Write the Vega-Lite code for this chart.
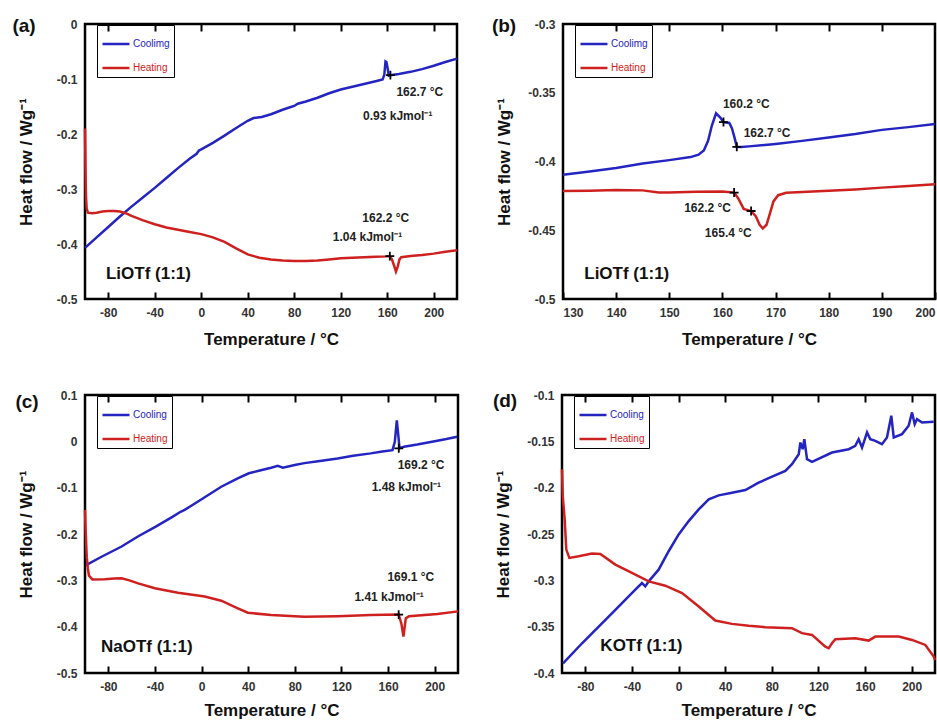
{
  "$schema": "https://vega.github.io/schema/vega-lite/v6.json",
  "background": "white",
  "padding": {"left": 11, "top": 15, "right": 5, "bottom": 0},
  "spacing": 38,
  "resolve": {"scale": {"color": "independent"}, "legend": {"color": "independent"}},
  "config": {
    "font": "Liberation Sans",
    "view": {"stroke": "#000", "strokeWidth": 2.5},
    "axis": {"grid": false, "domain": false, "labelFont": "Liberation Sans", "labelFontSize": 12, "labelFontWeight": "bold", "labelColor": "#333", "titleFont": "Liberation Sans", "titleFontSize": 17, "titleFontWeight": "bold", "titleColor": "#111", "format": "~f", "labelExpr": "replace(datum.label, '\u2212', '-')"},
    "axisY": {"ticks": false, "labelPadding": 8, "titleX": -59, "titleAngle": 270, "titleBaseline": "middle", "titleAlign": "center"},
    "axisX": {"titleBaseline": "middle"},
    "legend": {"orient": "none", "legendX": 12, "legendY": 1, "symbolType": "stroke", "symbolSize": 729, "symbolStrokeWidth": 2.5, "labelFont": "Liberation Sans", "labelFontSize": 10, "padding": 4, "rowPadding": 4, "strokeColor": "#000", "labelOffset": 2}
  },
  "datasets": {
    "a_lines": [
      {"T": -100, "v": -0.407, "s": "Coolimg"}, {"T": -90, "v": -0.388, "s": "Coolimg"}, {"T": -80, "v": -0.369, "s": "Coolimg"}, {"T": -70, "v": -0.35, "s": "Coolimg"}, {"T": -60, "v": -0.332, "s": "Coolimg"}, {"T": -50, "v": -0.315, "s": "Coolimg"}, {"T": -40, "v": -0.298, "s": "Coolimg"}, {"T": -30, "v": -0.28, "s": "Coolimg"}, {"T": -20, "v": -0.262, "s": "Coolimg"}, {"T": -10, "v": -0.245, "s": "Coolimg"}, {"T": -4, "v": -0.236, "s": "Coolimg"}, {"T": -2, "v": -0.23, "s": "Coolimg"}, {"T": 0, "v": -0.228, "s": "Coolimg"}, {"T": 5, "v": -0.222, "s": "Coolimg"}, {"T": 10, "v": -0.216, "s": "Coolimg"}, {"T": 20, "v": -0.203, "s": "Coolimg"}, {"T": 30, "v": -0.189, "s": "Coolimg"}, {"T": 40, "v": -0.176, "s": "Coolimg"}, {"T": 45, "v": -0.171, "s": "Coolimg"}, {"T": 52, "v": -0.169, "s": "Coolimg"}, {"T": 60, "v": -0.164, "s": "Coolimg"}, {"T": 70, "v": -0.156, "s": "Coolimg"}, {"T": 77, "v": -0.151, "s": "Coolimg"}, {"T": 80, "v": -0.149, "s": "Coolimg"}, {"T": 83, "v": -0.145, "s": "Coolimg"}, {"T": 90, "v": -0.141, "s": "Coolimg"}, {"T": 100, "v": -0.134, "s": "Coolimg"}, {"T": 110, "v": -0.126, "s": "Coolimg"}, {"T": 120, "v": -0.119, "s": "Coolimg"}, {"T": 130, "v": -0.114, "s": "Coolimg"}, {"T": 140, "v": -0.109, "s": "Coolimg"}, {"T": 150, "v": -0.104, "s": "Coolimg"}, {"T": 156, "v": -0.101, "s": "Coolimg"}, {"T": 157.5, "v": -0.092, "s": "Coolimg"}, {"T": 158.5, "v": -0.068, "s": "Coolimg"}, {"T": 159.3, "v": -0.069, "s": "Coolimg"}, {"T": 160.3, "v": -0.08, "s": "Coolimg"}, {"T": 161.3, "v": -0.094, "s": "Coolimg"}, {"T": 162.7, "v": -0.093, "s": "Coolimg"}, {"T": 170, "v": -0.091, "s": "Coolimg"}, {"T": 180, "v": -0.087, "s": "Coolimg"}, {"T": 190, "v": -0.082, "s": "Coolimg"}, {"T": 200, "v": -0.076, "s": "Coolimg"}, {"T": 210, "v": -0.069, "s": "Coolimg"}, {"T": 220, "v": -0.063, "s": "Coolimg"},
      {"T": -100, "v": -0.19, "s": "Heating"}, {"T": -99.6, "v": -0.26, "s": "Heating"}, {"T": -99.2, "v": -0.31, "s": "Heating"}, {"T": -98.6, "v": -0.335, "s": "Heating"}, {"T": -97.5, "v": -0.343, "s": "Heating"}, {"T": -94, "v": -0.344, "s": "Heating"}, {"T": -90, "v": -0.343, "s": "Heating"}, {"T": -85, "v": -0.341, "s": "Heating"}, {"T": -80, "v": -0.34, "s": "Heating"}, {"T": -75, "v": -0.34, "s": "Heating"}, {"T": -70, "v": -0.341, "s": "Heating"}, {"T": -65, "v": -0.344, "s": "Heating"}, {"T": -60, "v": -0.349, "s": "Heating"}, {"T": -50, "v": -0.357, "s": "Heating"}, {"T": -40, "v": -0.364, "s": "Heating"}, {"T": -30, "v": -0.37, "s": "Heating"}, {"T": -20, "v": -0.374, "s": "Heating"}, {"T": -10, "v": -0.378, "s": "Heating"}, {"T": 0, "v": -0.382, "s": "Heating"}, {"T": 10, "v": -0.388, "s": "Heating"}, {"T": 20, "v": -0.396, "s": "Heating"}, {"T": 30, "v": -0.408, "s": "Heating"}, {"T": 40, "v": -0.419, "s": "Heating"}, {"T": 50, "v": -0.425, "s": "Heating"}, {"T": 60, "v": -0.428, "s": "Heating"}, {"T": 70, "v": -0.43, "s": "Heating"}, {"T": 80, "v": -0.431, "s": "Heating"}, {"T": 90, "v": -0.431, "s": "Heating"}, {"T": 100, "v": -0.43, "s": "Heating"}, {"T": 110, "v": -0.428, "s": "Heating"}, {"T": 120, "v": -0.426, "s": "Heating"}, {"T": 130, "v": -0.425, "s": "Heating"}, {"T": 140, "v": -0.424, "s": "Heating"}, {"T": 150, "v": -0.423, "s": "Heating"}, {"T": 160, "v": -0.4225, "s": "Heating"}, {"T": 162.2, "v": -0.422, "s": "Heating"}, {"T": 164, "v": -0.428, "s": "Heating"}, {"T": 166, "v": -0.44, "s": "Heating"}, {"T": 167.5, "v": -0.45, "s": "Heating"}, {"T": 169, "v": -0.441, "s": "Heating"}, {"T": 170.5, "v": -0.428, "s": "Heating"}, {"T": 172, "v": -0.424, "s": "Heating"}, {"T": 180, "v": -0.422, "s": "Heating"}, {"T": 190, "v": -0.42, "s": "Heating"}, {"T": 200, "v": -0.4175, "s": "Heating"}, {"T": 210, "v": -0.414, "s": "Heating"}, {"T": 220, "v": -0.4115, "s": "Heating"}
    ],
    "a_marks": [{"T": 162.7, "v": -0.093}, {"T": 162.2, "v": -0.422}],
    "a_ann": [{"T": 188, "v": -0.123, "label": "162.7 °C"}, {"T": 169, "v": -0.167, "label": "0.93 kJmol⁻¹"}, {"T": 158.7, "v": -0.352, "label": "162.2 °C"}, {"T": 143, "v": -0.387, "label": "1.04 kJmol⁻¹"}],
    "a_sample": [{"T": -82, "v": -0.455, "label": "LiOTf (1:1)"}],
    "a_tag": [{"T": -100, "v": 0, "label": "(a)"}],
    "b_lines": [
      {"T": 130, "v": -0.4097, "s": "Coolimg"}, {"T": 135, "v": -0.4072, "s": "Coolimg"}, {"T": 140, "v": -0.4048, "s": "Coolimg"}, {"T": 145, "v": -0.4014, "s": "Coolimg"}, {"T": 150, "v": -0.399, "s": "Coolimg"}, {"T": 154, "v": -0.3968, "s": "Coolimg"}, {"T": 155.5, "v": -0.395, "s": "Coolimg"}, {"T": 156.5, "v": -0.392, "s": "Coolimg"}, {"T": 157.3, "v": -0.385, "s": "Coolimg"}, {"T": 158, "v": -0.374, "s": "Coolimg"}, {"T": 158.8, "v": -0.365, "s": "Coolimg"}, {"T": 159.6, "v": -0.368, "s": "Coolimg"}, {"T": 160.2, "v": -0.3713, "s": "Coolimg"}, {"T": 161.3, "v": -0.372, "s": "Coolimg"}, {"T": 161.8, "v": -0.376, "s": "Coolimg"}, {"T": 162.3, "v": -0.383, "s": "Coolimg"}, {"T": 162.7, "v": -0.3893, "s": "Coolimg"}, {"T": 163.5, "v": -0.3895, "s": "Coolimg"}, {"T": 165, "v": -0.389, "s": "Coolimg"}, {"T": 170, "v": -0.3872, "s": "Coolimg"}, {"T": 175, "v": -0.385, "s": "Coolimg"}, {"T": 180, "v": -0.3825, "s": "Coolimg"}, {"T": 185, "v": -0.38, "s": "Coolimg"}, {"T": 190, "v": -0.377, "s": "Coolimg"}, {"T": 195, "v": -0.375, "s": "Coolimg"}, {"T": 200, "v": -0.3728, "s": "Coolimg"},
      {"T": 130, "v": -0.4214, "s": "Heating"}, {"T": 135, "v": -0.4212, "s": "Heating"}, {"T": 140, "v": -0.4207, "s": "Heating"}, {"T": 145, "v": -0.421, "s": "Heating"}, {"T": 148, "v": -0.4226, "s": "Heating"}, {"T": 150, "v": -0.4225, "s": "Heating"}, {"T": 155, "v": -0.422, "s": "Heating"}, {"T": 160, "v": -0.4218, "s": "Heating"}, {"T": 162.2, "v": -0.4226, "s": "Heating"}, {"T": 163, "v": -0.427, "s": "Heating"}, {"T": 164, "v": -0.4345, "s": "Heating"}, {"T": 165.4, "v": -0.436, "s": "Heating"}, {"T": 166.3, "v": -0.44, "s": "Heating"}, {"T": 167, "v": -0.446, "s": "Heating"}, {"T": 167.6, "v": -0.4487, "s": "Heating"}, {"T": 168.3, "v": -0.446, "s": "Heating"}, {"T": 169, "v": -0.437, "s": "Heating"}, {"T": 169.6, "v": -0.429, "s": "Heating"}, {"T": 170.5, "v": -0.4245, "s": "Heating"}, {"T": 172, "v": -0.4228, "s": "Heating"}, {"T": 175, "v": -0.4222, "s": "Heating"}, {"T": 180, "v": -0.4212, "s": "Heating"}, {"T": 185, "v": -0.4203, "s": "Heating"}, {"T": 190, "v": -0.419, "s": "Heating"}, {"T": 195, "v": -0.4178, "s": "Heating"}, {"T": 200, "v": -0.4166, "s": "Heating"}
    ],
    "b_marks": [{"T": 160.2, "v": -0.3713}, {"T": 162.7, "v": -0.3893}, {"T": 162.2, "v": -0.4226}, {"T": 165.4, "v": -0.436}],
    "b_ann": [{"T": 164.5, "v": -0.3582, "label": "160.2 °C"}, {"T": 168.4, "v": -0.3793, "label": "162.7 °C"}, {"T": 157.2, "v": -0.4336, "label": "162.2 °C"}, {"T": 161.1, "v": -0.4523, "label": "165.4 °C"}],
    "b_sample": [{"T": 134, "v": -0.4815, "label": "LiOTf (1:1)"}],
    "b_tag": [{"T": 130, "v": -0.3, "label": "(b)"}],
    "c_lines": [
      {"T": -99.1, "v": -0.267, "s": "Cooling"}, {"T": -85, "v": -0.248, "s": "Cooling"}, {"T": -68.6, "v": -0.227, "s": "Cooling"}, {"T": -55, "v": -0.206, "s": "Cooling"}, {"T": -39.3, "v": -0.184, "s": "Cooling"}, {"T": -25, "v": -0.163, "s": "Cooling"}, {"T": -18, "v": -0.152, "s": "Cooling"}, {"T": -14.5, "v": -0.148, "s": "Cooling"}, {"T": -8.8, "v": -0.139, "s": "Cooling"}, {"T": 0.7, "v": -0.124, "s": "Cooling"}, {"T": 16.9, "v": -0.098, "s": "Cooling"}, {"T": 31, "v": -0.08, "s": "Cooling"}, {"T": 40.6, "v": -0.069, "s": "Cooling"}, {"T": 50, "v": -0.063, "s": "Cooling"}, {"T": 59.7, "v": -0.057, "s": "Cooling"}, {"T": 65.4, "v": -0.053, "s": "Cooling"}, {"T": 69.7, "v": -0.057, "s": "Cooling"}, {"T": 80, "v": -0.051, "s": "Cooling"}, {"T": 88.2, "v": -0.047, "s": "Cooling"}, {"T": 100, "v": -0.043, "s": "Cooling"}, {"T": 116.7, "v": -0.037, "s": "Cooling"}, {"T": 130, "v": -0.031, "s": "Cooling"}, {"T": 145.2, "v": -0.026, "s": "Cooling"}, {"T": 155, "v": -0.022, "s": "Cooling"}, {"T": 163.8, "v": -0.019, "s": "Cooling"}, {"T": 165.8, "v": -0.001, "s": "Cooling"}, {"T": 167.5, "v": 0.045, "s": "Cooling"}, {"T": 168.9, "v": 0.01, "s": "Cooling"}, {"T": 169.8, "v": -0.015, "s": "Cooling"}, {"T": 173.7, "v": -0.0115, "s": "Cooling"}, {"T": 185, "v": -0.007, "s": "Cooling"}, {"T": 202.3, "v": 0.0014, "s": "Cooling"}, {"T": 210, "v": 0.005, "s": "Cooling"}, {"T": 219.4, "v": 0.01, "s": "Cooling"},
      {"T": -100, "v": -0.148, "s": "Heating"}, {"T": -99.6, "v": -0.18, "s": "Heating"}, {"T": -99.1, "v": -0.213, "s": "Heating"}, {"T": -98.5, "v": -0.25, "s": "Heating"}, {"T": -97.5, "v": -0.275, "s": "Heating"}, {"T": -96.6, "v": -0.29, "s": "Heating"}, {"T": -93.7, "v": -0.298, "s": "Heating"}, {"T": -82.9, "v": -0.2975, "s": "Heating"}, {"T": -75, "v": -0.296, "s": "Heating"}, {"T": -68.6, "v": -0.2955, "s": "Heating"}, {"T": -62, "v": -0.3, "s": "Heating"}, {"T": -54.4, "v": -0.3065, "s": "Heating"}, {"T": -40.1, "v": -0.317, "s": "Heating"}, {"T": -20.2, "v": -0.3267, "s": "Heating"}, {"T": 2.7, "v": -0.335, "s": "Heating"}, {"T": 16.9, "v": -0.344, "s": "Heating"}, {"T": 31.1, "v": -0.3605, "s": "Heating"}, {"T": 39.7, "v": -0.37, "s": "Heating"}, {"T": 59.7, "v": -0.375, "s": "Heating"}, {"T": 88.2, "v": -0.3785, "s": "Heating"}, {"T": 116.7, "v": -0.3775, "s": "Heating"}, {"T": 145.2, "v": -0.375, "s": "Heating"}, {"T": 169.1, "v": -0.374, "s": "Heating"}, {"T": 171.4, "v": -0.393, "s": "Heating"}, {"T": 173.2, "v": -0.4216, "s": "Heating"}, {"T": 175.2, "v": -0.382, "s": "Heating"}, {"T": 178, "v": -0.3775, "s": "Heating"}, {"T": 202.3, "v": -0.3727, "s": "Heating"}, {"T": 220, "v": -0.367, "s": "Heating"}
    ],
    "c_marks": [{"T": 169.2, "v": -0.015}, {"T": 169.1, "v": -0.374}],
    "c_ann": [{"T": 188.3, "v": -0.051, "label": "169.2 °C"}, {"T": 175.7, "v": -0.0993, "label": "1.48 kJmol⁻¹"}, {"T": 179.5, "v": -0.292, "label": "169.1 °C"}, {"T": 160.9, "v": -0.3353, "label": "1.41 kJmol⁻¹"}],
    "c_sample": [{"T": -86.3, "v": -0.443, "label": "NaOTf (1:1)"}],
    "c_tag": [{"T": -100, "v": 0.1, "label": "(c)"}],
    "d_lines": [
      {"T": -99.1, "v": -0.3895, "s": "Cooling"}, {"T": -82.8, "v": -0.3679, "s": "Cooling"}, {"T": -54.2, "v": -0.3318, "s": "Cooling"}, {"T": -37.1, "v": -0.3101, "s": "Cooling"}, {"T": -31.4, "v": -0.3029, "s": "Cooling"}, {"T": -28.5, "v": -0.3065, "s": "Cooling"}, {"T": -25.6, "v": -0.3011, "s": "Cooling"}, {"T": -17.1, "v": -0.2885, "s": "Cooling"}, {"T": -8.5, "v": -0.2686, "s": "Cooling"}, {"T": 0.1, "v": -0.2505, "s": "Cooling"}, {"T": 8.7, "v": -0.2361, "s": "Cooling"}, {"T": 17.3, "v": -0.2235, "s": "Cooling"}, {"T": 25.9, "v": -0.2126, "s": "Cooling"}, {"T": 34.4, "v": -0.2083, "s": "Cooling"}, {"T": 45.8, "v": -0.2054, "s": "Cooling"}, {"T": 57.3, "v": -0.2025, "s": "Cooling"}, {"T": 68.7, "v": -0.1946, "s": "Cooling"}, {"T": 80.2, "v": -0.1881, "s": "Cooling"}, {"T": 91.6, "v": -0.182, "s": "Cooling"}, {"T": 97.3, "v": -0.1747, "s": "Cooling"}, {"T": 103.1, "v": -0.1639, "s": "Cooling"}, {"T": 104.5, "v": -0.1513, "s": "Cooling"}, {"T": 106.5, "v": -0.1585, "s": "Cooling"}, {"T": 107.9, "v": -0.1477, "s": "Cooling"}, {"T": 110.2, "v": -0.1693, "s": "Cooling"}, {"T": 114.5, "v": -0.1722, "s": "Cooling"}, {"T": 131.6, "v": -0.1621, "s": "Cooling"}, {"T": 146, "v": -0.1585, "s": "Cooling"}, {"T": 151.6, "v": -0.1549, "s": "Cooling"}, {"T": 154.5, "v": -0.1477, "s": "Cooling"}, {"T": 157.4, "v": -0.1567, "s": "Cooling"}, {"T": 161.7, "v": -0.1404, "s": "Cooling"}, {"T": 164.5, "v": -0.1477, "s": "Cooling"}, {"T": 168.8, "v": -0.1495, "s": "Cooling"}, {"T": 174.5, "v": -0.1531, "s": "Cooling"}, {"T": 178.8, "v": -0.1458, "s": "Cooling"}, {"T": 182.5, "v": -0.1224, "s": "Cooling"}, {"T": 184.6, "v": -0.1458, "s": "Cooling"}, {"T": 191.7, "v": -0.1422, "s": "Cooling"}, {"T": 197.4, "v": -0.1332, "s": "Cooling"}, {"T": 200.3, "v": -0.1188, "s": "Cooling"}, {"T": 202.6, "v": -0.1314, "s": "Cooling"}, {"T": 204.6, "v": -0.126, "s": "Cooling"}, {"T": 208.9, "v": -0.1296, "s": "Cooling"}, {"T": 218.9, "v": -0.1289, "s": "Cooling"},
      {"T": -100, "v": -0.1801, "s": "Heating"}, {"T": -99.3, "v": -0.21, "s": "Heating"}, {"T": -97.7, "v": -0.2343, "s": "Heating"}, {"T": -96.3, "v": -0.2668, "s": "Heating"}, {"T": -93.7, "v": -0.2758, "s": "Heating"}, {"T": -85.7, "v": -0.274, "s": "Heating"}, {"T": -74.3, "v": -0.2711, "s": "Heating"}, {"T": -67.1, "v": -0.2715, "s": "Heating"}, {"T": -54.2, "v": -0.283, "s": "Heating"}, {"T": -40, "v": -0.292, "s": "Heating"}, {"T": -25.6, "v": -0.3011, "s": "Heating"}, {"T": -11.4, "v": -0.3058, "s": "Heating"}, {"T": 3, "v": -0.3137, "s": "Heating"}, {"T": 17.3, "v": -0.3282, "s": "Heating"}, {"T": 31.5, "v": -0.3434, "s": "Heating"}, {"T": 45.8, "v": -0.347, "s": "Heating"}, {"T": 60.2, "v": -0.3491, "s": "Heating"}, {"T": 74.4, "v": -0.3505, "s": "Heating"}, {"T": 97.3, "v": -0.3516, "s": "Heating"}, {"T": 105.9, "v": -0.357, "s": "Heating"}, {"T": 114.5, "v": -0.3589, "s": "Heating"}, {"T": 125.9, "v": -0.3715, "s": "Heating"}, {"T": 128.8, "v": -0.3733, "s": "Heating"}, {"T": 131.6, "v": -0.3679, "s": "Heating"}, {"T": 134.5, "v": -0.3635, "s": "Heating"}, {"T": 151.6, "v": -0.3624, "s": "Heating"}, {"T": 163.1, "v": -0.365, "s": "Heating"}, {"T": 168.8, "v": -0.3607, "s": "Heating"}, {"T": 188.9, "v": -0.3607, "s": "Heating"}, {"T": 200.3, "v": -0.3643, "s": "Heating"}, {"T": 211.7, "v": -0.3697, "s": "Heating"}, {"T": 218.9, "v": -0.3823, "s": "Heating"}, {"T": 220, "v": -0.386, "s": "Heating"}
    ],
    "d_sample": [{"T": -67.1, "v": -0.3708, "label": "KOTf (1:1)"}],
    "d_tag": [{"T": -100, "v": -0.1, "label": "(d)"}]
  },
  "vconcat": [
    {
      "hconcat": [
        {
          "width": 372, "height": 275,
          "resolve": {"axis": {"x": "independent"}},
          "layer": [
            {"data": {"name": "a_lines"}, "mark": {"type": "line", "strokeWidth": 2.5},
             "encoding": {
               "x": {"field": "T", "type": "quantitative", "scale": {"domain": [-100, 220], "nice": false, "zero": false}, "axis": {"values": [-80, -40, 0, 40, 80, 120, 160, 200], "title": "Temperature / °C", "ticks": true, "tickSize": 7, "tickWidth": 2, "tickColor": "#000000", "offset": -7, "labelPadding": 8, "titleY": 47}},
               "y": {"field": "v", "type": "quantitative", "scale": {"domain": [-0.5, 0], "nice": false, "zero": false}, "axis": {"values": [-0.5, -0.4, -0.3, -0.2, -0.1, 0], "title": "Heat flow / Wg⁻¹"}},
               "color": {"field": "s", "type": "nominal", "scale": {"domain": ["Coolimg", "Heating"], "range": ["#2424c0", "#cf2020"]}, "legend": {"title": null, "encoding": {"labels": {"fill": {"value": {"expr": "datum.value == 'Heating' ? '#cf2020' : '#2424c0'"}}}}}}
             }},
            {"data": {"name": "a_marks"}, "mark": {"type": "point", "shape": "M-1,0H1M0,-1V1", "size": 80, "filled": false, "stroke": "#000", "strokeWidth": 1.8, "opacity": 1},
             "encoding": {"x": {"field": "T", "type": "quantitative", "scale": {"domain": [-100, 220], "nice": false, "zero": false}, "axis": null}, "y": {"field": "v", "type": "quantitative", "scale": {"domain": [-0.5, 0], "nice": false, "zero": false}}}},
            {"data": {"name": "a_ann"}, "mark": {"type": "text", "fontSize": 12, "fontWeight": "bold", "color": "#222"},
             "encoding": {"x": {"field": "T", "type": "quantitative", "scale": {"domain": [-100, 220], "nice": false, "zero": false}, "axis": null}, "y": {"field": "v", "type": "quantitative", "scale": {"domain": [-0.5, 0], "nice": false, "zero": false}}, "text": {"field": "label"}}},
            {"data": {"name": "a_sample"}, "mark": {"type": "text", "fontSize": 17, "fontWeight": "bold", "align": "left", "color": "#111"},
             "encoding": {"x": {"field": "T", "type": "quantitative", "scale": {"domain": [-100, 220], "nice": false, "zero": false}, "axis": {"orient": "top", "values": [-80, -40, 0, 40, 80, 120, 160, 200], "labels": false, "title": null, "ticks": true, "tickSize": 7, "tickWidth": 2, "tickColor": "#000000", "offset": -7}}, "y": {"field": "v", "type": "quantitative", "scale": {"domain": [-0.5, 0], "nice": false, "zero": false}}, "text": {"field": "label"}}},
            {"data": {"name": "a_tag"}, "mark": {"type": "text", "fontSize": 19, "fontWeight": "bold", "dx": -61, "dy": 2, "color": "#111"},
             "encoding": {"x": {"field": "T", "type": "quantitative", "scale": {"domain": [-100, 220], "nice": false, "zero": false}, "axis": null}, "y": {"field": "v", "type": "quantitative", "scale": {"domain": [-0.5, 0], "nice": false, "zero": false}}, "text": {"field": "label"}}}
          ]
        },
        {
          "width": 372, "height": 275,
          "resolve": {"axis": {"x": "independent"}},
          "layer": [
            {"data": {"name": "b_lines"}, "mark": {"type": "line", "strokeWidth": 2.5},
             "encoding": {
               "x": {"field": "T", "type": "quantitative", "scale": {"domain": [130, 200], "nice": false, "zero": false}, "axis": {"values": [130, 140, 150, 160, 170, 180, 190, 200], "title": "Temperature / °C", "ticks": true, "tickSize": 7, "tickWidth": 2, "tickColor": "#000000", "offset": -7, "labelPadding": 8, "titleY": 47}},
               "y": {"field": "v", "type": "quantitative", "scale": {"domain": [-0.5, -0.3], "nice": false, "zero": false}, "axis": {"values": [-0.5, -0.45, -0.4, -0.35, -0.3], "title": "Heat flow / Wg⁻¹"}},
               "color": {"field": "s", "type": "nominal", "scale": {"domain": ["Coolimg", "Heating"], "range": ["#2424c0", "#cf2020"]}, "legend": {"title": null, "encoding": {"labels": {"fill": {"value": {"expr": "datum.value == 'Heating' ? '#cf2020' : '#2424c0'"}}}}}}
             }},
            {"data": {"name": "b_marks"}, "mark": {"type": "point", "shape": "M-1,0H1M0,-1V1", "size": 80, "filled": false, "stroke": "#000", "strokeWidth": 1.8, "opacity": 1},
             "encoding": {"x": {"field": "T", "type": "quantitative", "scale": {"domain": [130, 200], "nice": false, "zero": false}, "axis": null}, "y": {"field": "v", "type": "quantitative", "scale": {"domain": [-0.5, -0.3], "nice": false, "zero": false}}}},
            {"data": {"name": "b_ann"}, "mark": {"type": "text", "fontSize": 12, "fontWeight": "bold", "color": "#222"},
             "encoding": {"x": {"field": "T", "type": "quantitative", "scale": {"domain": [130, 200], "nice": false, "zero": false}, "axis": null}, "y": {"field": "v", "type": "quantitative", "scale": {"domain": [-0.5, -0.3], "nice": false, "zero": false}}, "text": {"field": "label"}}},
            {"data": {"name": "b_sample"}, "mark": {"type": "text", "fontSize": 17, "fontWeight": "bold", "align": "left", "color": "#111"},
             "encoding": {"x": {"field": "T", "type": "quantitative", "scale": {"domain": [130, 200], "nice": false, "zero": false}, "axis": {"orient": "top", "values": [140, 150, 160, 170, 180, 190], "labels": false, "title": null, "ticks": true, "tickSize": 7, "tickWidth": 2, "tickColor": "#000000", "offset": -7}}, "y": {"field": "v", "type": "quantitative", "scale": {"domain": [-0.5, -0.3], "nice": false, "zero": false}}, "text": {"field": "label"}}},
            {"data": {"name": "b_tag"}, "mark": {"type": "text", "fontSize": 19, "fontWeight": "bold", "dx": -59, "dy": 2, "color": "#111"},
             "encoding": {"x": {"field": "T", "type": "quantitative", "scale": {"domain": [130, 200], "nice": false, "zero": false}, "axis": null}, "y": {"field": "v", "type": "quantitative", "scale": {"domain": [-0.5, -0.3], "nice": false, "zero": false}}, "text": {"field": "label"}}}
          ]
        }
      ],
      "spacing": 26,
      "resolve": {"scale": {"color": "independent"}, "legend": {"color": "independent"}}
    },
    {
      "hconcat": [
        {
          "width": 373, "height": 278,
          "resolve": {"axis": {"x": "independent"}},
          "layer": [
            {"data": {"name": "c_lines"}, "mark": {"type": "line", "strokeWidth": 2.5},
             "encoding": {
               "x": {"field": "T", "type": "quantitative", "scale": {"domain": [-100, 220], "nice": false, "zero": false}, "axis": {"values": [-80, -40, 0, 40, 80, 120, 160, 200], "title": "Temperature / °C", "ticks": true, "tickSize": 7, "tickWidth": 2, "tickColor": "#000000", "offset": -7, "labelPadding": 8, "titleY": 44}},
               "y": {"field": "v", "type": "quantitative", "scale": {"domain": [-0.5, 0.1], "nice": false, "zero": false}, "axis": {"values": [-0.5, -0.4, -0.3, -0.2, -0.1, 0, 0.1], "title": "Heat flow / Wg⁻¹"}},
               "color": {"field": "s", "type": "nominal", "scale": {"domain": ["Cooling", "Heating"], "range": ["#2424c0", "#cf2020"]}, "legend": {"title": null, "encoding": {"labels": {"fill": {"value": {"expr": "datum.value == 'Heating' ? '#cf2020' : '#2424c0'"}}}}}}
             }},
            {"data": {"name": "c_marks"}, "mark": {"type": "point", "shape": "M-1,0H1M0,-1V1", "size": 80, "filled": false, "stroke": "#000", "strokeWidth": 1.8, "opacity": 1},
             "encoding": {"x": {"field": "T", "type": "quantitative", "scale": {"domain": [-100, 220], "nice": false, "zero": false}, "axis": null}, "y": {"field": "v", "type": "quantitative", "scale": {"domain": [-0.5, 0.1], "nice": false, "zero": false}}}},
            {"data": {"name": "c_ann"}, "mark": {"type": "text", "fontSize": 12, "fontWeight": "bold", "color": "#222"},
             "encoding": {"x": {"field": "T", "type": "quantitative", "scale": {"domain": [-100, 220], "nice": false, "zero": false}, "axis": null}, "y": {"field": "v", "type": "quantitative", "scale": {"domain": [-0.5, 0.1], "nice": false, "zero": false}}, "text": {"field": "label"}}},
            {"data": {"name": "c_sample"}, "mark": {"type": "text", "fontSize": 17, "fontWeight": "bold", "align": "left", "color": "#111"},
             "encoding": {"x": {"field": "T", "type": "quantitative", "scale": {"domain": [-100, 220], "nice": false, "zero": false}, "axis": {"orient": "top", "values": [-80, -40, 0, 40, 80, 120, 160, 200], "labels": false, "title": null, "ticks": true, "tickSize": 7, "tickWidth": 2, "tickColor": "#000000", "offset": -7}}, "y": {"field": "v", "type": "quantitative", "scale": {"domain": [-0.5, 0.1], "nice": false, "zero": false}}, "text": {"field": "label"}}},
            {"data": {"name": "c_tag"}, "mark": {"type": "text", "fontSize": 19, "fontWeight": "bold", "dx": -58, "dy": 7, "color": "#111"},
             "encoding": {"x": {"field": "T", "type": "quantitative", "scale": {"domain": [-100, 220], "nice": false, "zero": false}, "axis": null}, "y": {"field": "v", "type": "quantitative", "scale": {"domain": [-0.5, 0.1], "nice": false, "zero": false}}, "text": {"field": "label"}}}
          ]
        },
        {
          "width": 373, "height": 278,
          "resolve": {"axis": {"x": "independent"}},
          "layer": [
            {"data": {"name": "d_lines"}, "mark": {"type": "line", "strokeWidth": 2.5},
             "encoding": {
               "x": {"field": "T", "type": "quantitative", "scale": {"domain": [-100, 220], "nice": false, "zero": false}, "axis": {"values": [-80, -40, 0, 40, 80, 120, 160, 200], "title": "Temperature / °C", "ticks": true, "tickSize": 7, "tickWidth": 2, "tickColor": "#000000", "offset": -7, "labelPadding": 8, "titleY": 44}},
               "y": {"field": "v", "type": "quantitative", "scale": {"domain": [-0.4, -0.1], "nice": false, "zero": false}, "axis": {"values": [-0.4, -0.35, -0.3, -0.25, -0.2, -0.15, -0.1], "title": "Heat flow / Wg⁻¹"}},
               "color": {"field": "s", "type": "nominal", "scale": {"domain": ["Cooling", "Heating"], "range": ["#2424c0", "#cf2020"]}, "legend": {"title": null, "encoding": {"labels": {"fill": {"value": {"expr": "datum.value == 'Heating' ? '#cf2020' : '#2424c0'"}}}}}}
             }},
            {"data": {"name": "d_sample"}, "mark": {"type": "text", "fontSize": 17, "fontWeight": "bold", "align": "left", "color": "#111"},
             "encoding": {"x": {"field": "T", "type": "quantitative", "scale": {"domain": [-100, 220], "nice": false, "zero": false}, "axis": {"orient": "top", "values": [-80, -40, 0, 40, 80, 120, 160, 200], "labels": false, "title": null, "ticks": true, "tickSize": 7, "tickWidth": 2, "tickColor": "#000000", "offset": -7}}, "y": {"field": "v", "type": "quantitative", "scale": {"domain": [-0.4, -0.1], "nice": false, "zero": false}}, "text": {"field": "label"}}},
            {"data": {"name": "d_tag"}, "mark": {"type": "text", "fontSize": 19, "fontWeight": "bold", "dx": -57, "dy": 6, "color": "#111"},
             "encoding": {"x": {"field": "T", "type": "quantitative", "scale": {"domain": [-100, 220], "nice": false, "zero": false}, "axis": null}, "y": {"field": "v", "type": "quantitative", "scale": {"domain": [-0.4, -0.1], "nice": false, "zero": false}}, "text": {"field": "label"}}}
          ]
        }
      ],
      "spacing": 26,
      "resolve": {"scale": {"color": "independent"}, "legend": {"color": "independent"}}
    }
  ]
}
